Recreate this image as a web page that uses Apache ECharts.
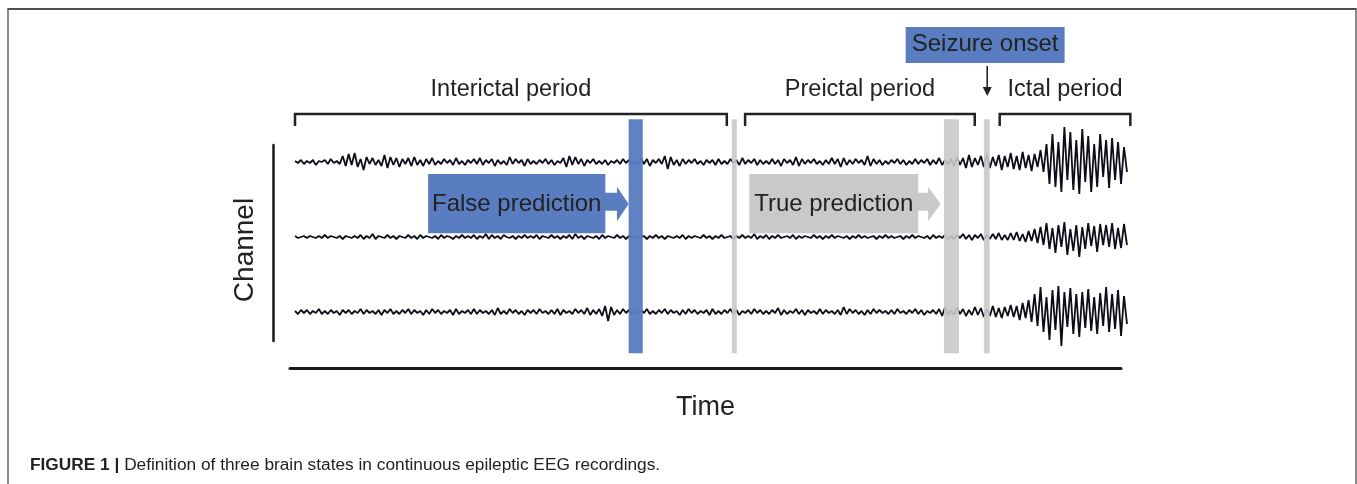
<!DOCTYPE html>
<html><head><meta charset="utf-8">
<script src="https://cdn.jsdelivr.net/npm/echarts@6/dist/echarts.min.js"></script>
<style>
html,body{margin:0;padding:0;background:#fff;}
#wrap{position:relative;width:1357px;height:484px;overflow:hidden;}
#chart{position:absolute;left:0;top:0;width:1357px;height:484px;}
#frame{position:absolute;left:7px;top:8px;width:1346px;height:490px;border-top:2px solid #4d4d4d;border-left:2px solid #8c8c8c;border-right:2px solid #8c8c8c;pointer-events:none;}
</style></head><body>
<div id="wrap"><div id="chart"></div><div id="frame"></div></div>
<script>
// ---------- DATA ----------
// EEG amplitudes (µV-like units, 75 units = spacing between channel baselines)
const ch1 = [
 1,-1,2,-2,1,-1,2,-3,1,0,2,-2,3,-1,1,-2,6,-4,8,-3,
 9,-5,3,-8,5,-2,4,-3,2,-4,7,-6,5,-3,4,-5,3,-2,4,-4,
 5,-3,2,-4,3,-2,4,-3,1,-2,3,-1,2,-3,4,-2,1,-3,2,-1,
 3,-2,4,-3,2,-1,3,-4,2,-2,1,-3,5,-2,3,-1,2,-4,3,-2,
 1,-2,2,-1,3,-2,2,-3,1,-1,4,-5,6,-3,5,-2,3,-4,2,-1,
 3,-2,1,-2,2,-3,1,-1,2,-2,3,-1,2,-3,1,-2,4,-2,3,-4,
 2,-1,3,-2,6,-7,5,-3,2,-4,3,-2,2,-1,3,-2,1,-3,2,-1,
 2,-3,3,-2,1,-2,3,-1,2,-3,4,-2,2,-1,3,-3,2,-2,1,-2,
 3,-2,2,-4,3,-1,2,-3,5,-4,3,-2,2,-1,3,-2,1,-3,2,-2,
 4,-2,3,-5,4,-3,2,-2,3,-1,2,-3,6,-4,3,-2,2,-3,1,-2,
 2,-1,3,-2,2,-3,1,-2,3,-2,2,-1,3,-3,2,-2,4,-3,2,-2,
 3,-4,5,-3,4,-6,7,-5,4,-3,6,-5,8,-6,5,-4,7,-8,6,-5,
 9,-7,6,-8,10,-6,7,-9,8,-5,12,-10,18,-22,28,-25,20,-30,35,-18,
 30,-28,22,-32,33,-20,26,-30,18,-25,28,-15,22,-26,24,-18,20,-22,15,-10
];
const ch2 = [
 1,-1,0,1,-1,1,0,-1,1,-1,2,-1,1,0,-1,1,-2,1,0,-1,
 1,-1,2,-2,1,-1,3,-2,1,0,-1,2,-1,1,-2,1,0,-1,2,-1,
 1,-2,2,-1,1,0,-1,1,-2,2,-1,1,0,-2,1,-1,2,-1,1,-1,
 2,-2,1,-1,3,-2,2,-1,1,-2,2,0,-1,1,-2,1,-1,2,-1,1,
 -1,2,-2,1,0,-1,2,-1,1,-2,1,-1,2,-2,3,-1,1,-2,1,0,
 -1,1,-2,2,-1,1,0,-1,2,-1,1,-2,1,-1,2,-1,0,1,-2,1,
 -1,2,-1,1,-2,1,0,-1,1,-1,2,-2,1,-1,1,0,-1,2,-1,1,
 -2,1,-1,2,-1,0,1,-2,1,-1,2,-1,1,-1,3,-2,1,-1,2,-2,
 1,-1,2,-1,0,1,-1,2,-2,1,-1,1,0,-1,2,-1,1,-2,1,-1,
 2,-1,1,0,-1,1,-2,1,-1,2,-1,1,-1,0,1,-2,1,-1,2,-1,
 1,-1,0,1,-2,1,-1,2,-1,1,0,-1,1,-2,2,-1,1,-1,2,-2,
 1,-2,2,-1,3,-2,2,-3,2,-1,3,-3,2,-2,3,-2,4,-3,2,-3,
 4,-3,5,-4,3,-5,6,-4,8,-6,10,-8,14,-12,9,-16,12,-10,15,-18,
 8,-14,12,-20,10,-12,14,-9,11,-15,13,-8,12,-10,14,-12,9,-11,13,-8
];
const ch3 = [
 1,-2,2,-1,2,-2,1,-1,3,-2,1,-2,2,-1,1,-3,2,-1,2,-2,
 1,-1,3,-2,2,-1,1,-2,2,-3,2,-1,3,-2,1,-2,2,-1,3,-2,
 2,-1,1,-3,2,-2,3,-1,2,-2,1,-1,2,-3,3,-2,1,-1,2,-2,
 3,-2,2,-1,1,-2,2,-3,4,-2,1,-2,3,-1,2,-2,1,-3,2,-1,
 2,-2,3,-1,1,-2,2,-2,3,-3,2,-1,1,-2,3,-1,2,-2,4,-3,
 2,-2,3,-4,6,-9,5,-3,2,-2,3,-1,2,-3,1,-2,2,-1,3,-2,
 1,-2,2,-1,3,-2,2,-1,1,-3,2,-2,3,-1,2,-2,1,-1,2,-3,
 3,-2,1,-2,2,-1,3,-2,2,-3,1,-1,2,-2,3,-1,2,-2,1,-2,
 2,-1,4,-3,2,-2,1,-1,3,-2,2,-3,2,-1,1,-2,3,-2,2,-1,
 1,-2,2,-3,5,-2,3,-1,2,-2,1,-3,2,-2,3,-1,2,-1,1,-2,
 2,-2,3,-1,1,-2,2,-1,3,-2,2,-3,1,-1,2,-2,3,-4,5,-3,
 2,-3,4,-2,3,-4,2,-3,5,-3,4,-5,3,-4,6,-5,4,-6,5,-4,
 7,-5,6,-8,9,-6,12,-10,18,-14,25,-20,15,-28,22,-18,26,-34,20,-15,
 24,-22,18,-25,20,-16,23,-19,15,-22,19,-14,25,-20,18,-17,22,-24,16,-12
];
const channels = [ch1, ch2, ch3];
const recordingLength = 100;   // time units across the trace
const rowSpan = 75;            // amplitude units between channel baselines

const periodNames = ['Interictal period', 'Preictal period', 'Ictal period'];
const periodStart = [0, 54.1, 84.7];
const periodEnd   = [51.9, 81.7, 100.4];

const markerStart = [40.1, 52.5, 78.0, 82.8];
const markerEnd   = [41.8, 53.1, 79.8, 83.5];
const markerKind  = ['false', 'boundary', 'true', 'onset'];

const predictionLabels   = ['False prediction', 'True prediction'];
const predictionKind     = ['false', 'true'];
const predictionBoxStart = [16.0, 54.6];
const predictionBoxEnd   = [37.3, 74.9];
const predictionHeadBase = [38.7, 76.1];
const predictionTip      = [40.1, 77.6];

const onsetLabel = ['Seizure onset'];
const onsetBoxStart = [73.4];
const onsetBoxEnd = [92.5];
const onsetTime = [83.2];

const captionBold = 'FIGURE 1 |';
const captionText = 'Definition of three brain states in continuous epileptic EEG recordings.';

// ---------- STYLE / LAYOUT ----------
const BLUE = '#5a7cc0', GREY = '#c9c9c9', INK = '#222222';
const FONT = '"Liberation Sans", Arial, Helvetica, sans-serif';
// vertical layout levels in channel units (channel baselines at 1,2,3)
const L = {
  barTop: 0.43, barBottom: 3.55,
  bracketTop: 0.36, bracketTick: 0.52, periodLabel: 0.03,
  boxTop: 1.16, boxBottom: 1.95, shaftTop: 1.41, shaftBottom: 1.65,
  headTop: 1.33, headBottom: 1.79, boxMid: 1.56,
  onsetTop: -0.8, onsetBottom: -0.32, onsetText: -0.575,
  arrowTop: -0.28, arrowHead: 0.0, arrowBottom: 0.12
};

const traceSeries = channels.map((arr, c) => ({
  type: 'line', xAxisIndex: 0, yAxisIndex: 0, z: 2,
  showSymbol: false, symbol: 'none', silent: true, sampling: false,
  lineStyle: { color: '#0d0d1a', width: 1.8, join: 'bevel' },
  data: arr.map((v, i) => [i * recordingLength / (arr.length - 1), (c + 1) - v / rowSpan])
}));

const markerSeries = {
  type: 'custom', xAxisIndex: 0, yAxisIndex: 0, z: 5, silent: true, clip: false,
  data: markerStart.map((s, i) => [s, markerEnd[i]]),
  renderItem: (params, api) => {
    const p0 = api.coord([api.value(0), L.barTop]);
    const p1 = api.coord([api.value(1), L.barBottom]);
    const k = markerKind[params.dataIndex];
    return { type: 'rect', shape: { x: p0[0], y: p0[1], width: p1[0] - p0[0], height: p1[1] - p0[1] },
      style: { fill: k === 'false' ? BLUE : GREY, opacity: k === 'false' ? 0.96 : 0.9 } };
  }
};

const bracketSeries = {
  type: 'custom', xAxisIndex: 0, yAxisIndex: 0, z: 6, silent: true, clip: false,
  data: periodStart.map((s, i) => [s, periodEnd[i]]),
  renderItem: (params, api) => {
    const s = api.value(0), e = api.value(1);
    const c = api.coord([(s + e) / 2, L.periodLabel]);
    return { type: 'group', children: [
      { type: 'polyline', shape: { points: [api.coord([s, L.bracketTick]), api.coord([s, L.bracketTop]), api.coord([e, L.bracketTop]), api.coord([e, L.bracketTick])] },
        style: { stroke: INK, lineWidth: 2.5, fill: null } },
      { type: 'text', x: c[0], y: c[1], style: { text: periodNames[params.dataIndex], fill: INK, fontSize: 23.5, fontFamily: FONT, align: 'center', verticalAlign: 'middle' } }
    ] };
  }
};

const predictionSeries = {
  type: 'custom', xAxisIndex: 0, yAxisIndex: 0, z: 8, silent: true, clip: false,
  data: predictionBoxStart.map((s, i) => [s, predictionBoxEnd[i], predictionHeadBase[i], predictionTip[i]]),
  renderItem: (params, api) => {
    const s = api.value(0), e = api.value(1), hb = api.value(2), tip = api.value(3);
    const pts = [[s, L.boxTop], [e, L.boxTop], [e, L.shaftTop], [hb, L.shaftTop], [hb, L.headTop], [tip, L.boxMid],
                 [hb, L.headBottom], [hb, L.shaftBottom], [e, L.shaftBottom], [e, L.boxBottom], [s, L.boxBottom]].map(p => api.coord(p));
    const c = api.coord([(s + e) / 2, L.boxMid]);
    const k = predictionKind[params.dataIndex];
    return { type: 'group', children: [
      { type: 'polygon', shape: { points: pts }, style: { fill: k === 'false' ? BLUE : GREY } },
      { type: 'text', x: c[0], y: c[1], style: { text: predictionLabels[params.dataIndex], fill: INK, fontSize: 24, fontFamily: FONT, align: 'center', verticalAlign: 'middle' } }
    ] };
  }
};

const onsetSeries = {
  type: 'custom', xAxisIndex: 0, yAxisIndex: 0, z: 8, silent: true, clip: false,
  data: onsetBoxStart.map((s, i) => [s, onsetBoxEnd[i], onsetTime[i]]),
  renderItem: (params, api) => {
    const s = api.value(0), e = api.value(1), t = api.value(2);
    const a = api.coord([s, L.onsetTop]), b = api.coord([e, L.onsetBottom]);
    const c = api.coord([(s + e) / 2, L.onsetText]);
    const top = api.coord([t, L.arrowTop]), mid = api.coord([t, L.arrowHead]), bot = api.coord([t, L.arrowBottom]);
    return { type: 'group', children: [
      { type: 'rect', shape: { x: a[0], y: a[1], width: b[0] - a[0], height: b[1] - a[1] }, style: { fill: BLUE } },
      { type: 'text', x: c[0], y: c[1], style: { text: onsetLabel[params.dataIndex], fill: INK, fontSize: 24, fontFamily: FONT, align: 'center', verticalAlign: 'middle' } },
      { type: 'line', shape: { x1: top[0], y1: top[1], x2: mid[0], y2: mid[1] + 2 }, style: { stroke: INK, lineWidth: 1.6 } },
      { type: 'polygon', shape: { points: [[mid[0] - 4.5, mid[1]], [mid[0] + 4.5, mid[1]], [bot[0], bot[1]]] }, style: { fill: INK } }
    ] };
  }
};

const chart = echarts.init(document.getElementById('chart'), null, { renderer: 'canvas' });
chart.setOption({
  animation: false,
  backgroundColor: '#ffffff',
  title: {
    left: 25, top: 452,
    text: '{b|' + captionBold + '} ' + captionText,
    textStyle: { fontFamily: FONT, fontSize: 17.3, fontWeight: 'normal', color: INK,
      rich: { b: { fontFamily: FONT, fontSize: 17.3, fontWeight: 'bold', color: INK } } }
  },
  grid: [
    { left: 295, width: 832, top: 12, height: 375 },
    { left: 290, width: 831, top: 330, height: 38 },
    { left: 273, width: 20, top: 145, height: 196 }
  ],
  xAxis: [
    { gridIndex: 0, type: 'value', min: 0, max: recordingLength, show: false },
    { gridIndex: 1, type: 'value', min: 0, max: 1, position: 'bottom',
      axisLine: { show: true, lineStyle: { color: '#1a1a1a', width: 3 } },
      axisTick: { show: false }, axisLabel: { show: false }, splitLine: { show: false },
      name: 'Time', nameLocation: 'middle', nameGap: 26,
      nameTextStyle: { fontFamily: FONT, fontSize: 27, color: INK } },
    { gridIndex: 2, type: 'value', min: 0, max: 1, show: false }
  ],
  yAxis: [
    { gridIndex: 0, type: 'value', min: -1, max: 4, inverse: true, show: false },
    { gridIndex: 1, type: 'value', min: 0, max: 1, show: false },
    { gridIndex: 2, type: 'value', min: 0, max: 1, position: 'left',
      axisLine: { show: true, lineStyle: { color: '#1a1a1a', width: 2.5 } },
      axisTick: { show: false }, axisLabel: { show: false }, splitLine: { show: false },
      name: 'Channel', nameLocation: 'middle', nameRotate: 90, nameGap: 14,
      nameTextStyle: { fontFamily: FONT, fontSize: 28, color: INK, padding: [0, 14, 0, 0] } }
  ],
  series: [...traceSeries, markerSeries, bracketSeries, predictionSeries, onsetSeries]
});
</script>
</body></html>
